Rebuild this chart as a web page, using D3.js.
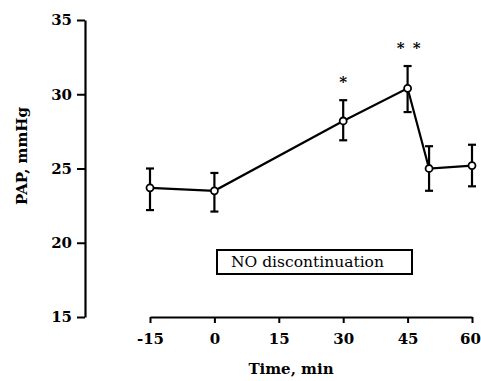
<!DOCTYPE html>
<html>
<head>
<meta charset="utf-8">
<script src="https://cdn.jsdelivr.net/npm/d3@7"></script>
<style>
  body { margin: 0; background: #fff; }
  svg text { font-family: "DejaVu Serif", "Liberation Serif", serif; fill: #000; }
</style>
</head>
<body>
<div id="chart"></div>
<script>
// data
var times = [-15, 0, 30, 45, 50, 60];
var pap = [23.7, 23.5, 28.2, 30.4, 25.0, 25.2];
var errHi = [25.0, 24.7, 29.6, 31.9, 26.5, 26.6];
var errLo = [22.2, 22.1, 26.9, 28.8, 23.5, 23.8];
var xTicks = [-15, 0, 15, 30, 45, 60];
var yTicks = [15, 20, 25, 30, 35];
var stars = [{ t: 30, label: "*" }, { t: 45, label: "* *" }];

var width = 481, height = 381;

var svg = d3.select("#chart")
  .append("svg")
  .attr("width", width)
  .attr("height", height);

var x = d3.scaleLinear().domain([-15, 60]).range([150, 472]);
var y = d3.scaleLinear().domain([15, 35]).range([317, 20]);

// plain hyphen for negatives, like the original
var fmt = function (d) { return String(d); };

// y axis
var yAxis = svg.append("g")
  .attr("transform", "translate(85,0)")
  .call(d3.axisLeft(y).tickValues(yTicks).tickFormat(fmt).tickSize(8).tickPadding(5).tickSizeOuter(0));
yAxis.select(".domain").attr("stroke", "#000").attr("stroke-width", 2.2);
yAxis.selectAll(".tick line").attr("stroke-width", 2);
yAxis.selectAll(".tick text")
  .style("font-size", "15px").style("font-weight", "bold").attr("font-family", null);

// x axis
var xAxis = svg.append("g")
  .attr("transform", "translate(0,317)")
  .call(d3.axisBottom(x).tickValues(xTicks).tickFormat(fmt).tickSize(6).tickPadding(10).tickSizeOuter(0));
xAxis.select(".domain").attr("stroke", "#000").attr("stroke-width", 2.2);
xAxis.selectAll(".tick line").attr("stroke-width", 2);
xAxis.selectAll(".tick text")
  .style("font-size", "15px").style("font-weight", "bold").attr("font-family", null);
// last label sits right at the edge, pull it in a touch
xAxis.selectAll(".tick text").filter(function (d) { return d === 60; }).attr("dx", -2);

// axis titles
svg.append("text")
  .attr("x", 291).attr("y", 374)
  .attr("text-anchor", "middle")
  .style("font-size", "15px").style("font-weight", "bold")
  .text("Time, min");

svg.append("text")
  .attr("transform", "translate(27,156) rotate(-90)")
  .attr("text-anchor", "middle")
  .style("font-size", "15px").style("font-weight", "bold")
  .text("PAP, mmHg");

var pts = times.map(function (t, i) {
  return { t: t, v: pap[i], hi: errHi[i], lo: errLo[i] };
});

// error bars
var eb = svg.append("g").attr("stroke", "#000").attr("stroke-width", 2.2);
eb.selectAll("line.bar").data(pts).enter().append("line")
  .attr("x1", function (d) { return x(d.t); })
  .attr("x2", function (d) { return x(d.t); })
  .attr("y1", function (d) { return y(d.hi); })
  .attr("y2", function (d) { return y(d.lo); });
eb.selectAll("line.capHi").data(pts).enter().append("line")
  .attr("x1", function (d) { return x(d.t) - 4; })
  .attr("x2", function (d) { return x(d.t) + 4; })
  .attr("y1", function (d) { return y(d.hi); })
  .attr("y2", function (d) { return y(d.hi); });
eb.selectAll("line.capLo").data(pts).enter().append("line")
  .attr("x1", function (d) { return x(d.t) - 4; })
  .attr("x2", function (d) { return x(d.t) + 4; })
  .attr("y1", function (d) { return y(d.lo); })
  .attr("y2", function (d) { return y(d.lo); });

// line
svg.append("path")
  .datum(pts)
  .attr("fill", "none")
  .attr("stroke", "#000")
  .attr("stroke-width", 2.2)
  .attr("d", d3.line()
    .x(function (d) { return x(d.t); })
    .y(function (d) { return y(d.v); }));

// points
svg.append("g").selectAll("circle").data(pts).enter().append("circle")
  .attr("cx", function (d) { return x(d.t); })
  .attr("cy", function (d) { return y(d.v); })
  .attr("r", 3.5)
  .attr("fill", "#fff")
  .attr("stroke", "#000")
  .attr("stroke-width", 1.8);

// significance marks
svg.selectAll("text.star").data(stars).enter().append("text")
  .attr("x", function (d) { return x(d.t) + (d.label.length > 1 ? 1 : 0); })
  .attr("y", function (d) { var i = times.indexOf(d.t); return y(errHi[i]) - 13; })
  .attr("text-anchor", "middle")
  .style("font-size", "15px").style("font-weight", "bold")
  .style("word-spacing", "3px")
  .text(function (d) { return d.label; });

// label box
svg.append("rect")
  .attr("x", 217).attr("y", 250)
  .attr("width", 195).attr("height", 24)
  .attr("fill", "#fff")
  .attr("stroke", "#000")
  .attr("stroke-width", 2);
svg.append("text")
  .attr("x", 231).attr("y", 267)
  .style("font-size", "15.5px")
  .text("NO discontinuation");
</script>
</body>
</html>
